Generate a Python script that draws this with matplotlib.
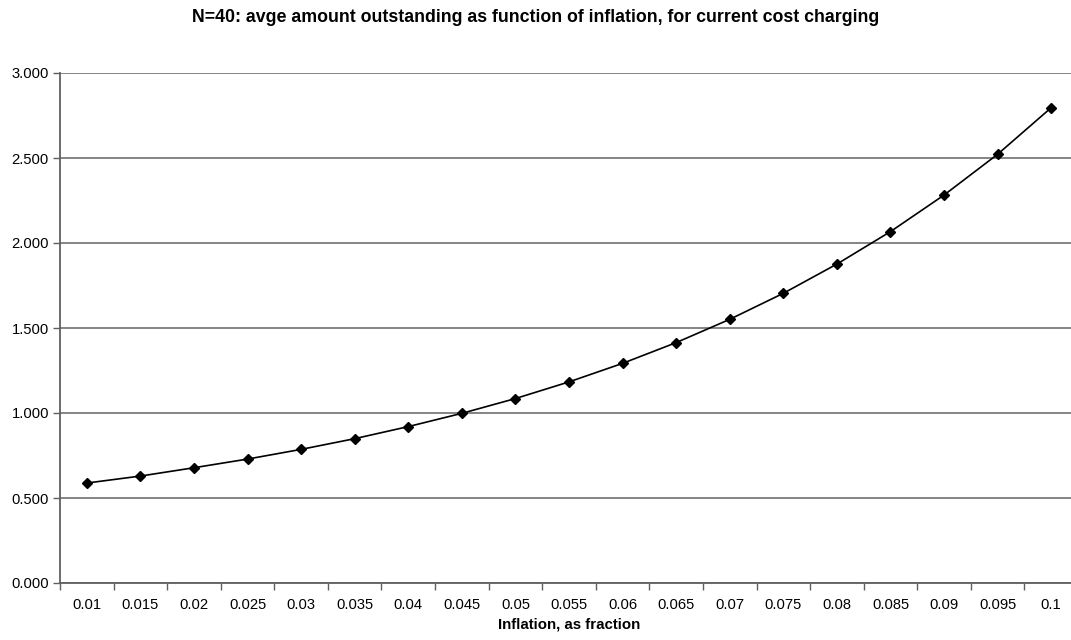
import numpy as np
import matplotlib.pyplot as plt
from matplotlib.ticker import FixedLocator, FixedFormatter

plt.rcParams['font.family'] = ['Liberation Sans', 'DejaVu Sans']

# inflation categories and average amount outstanding
inflation = ['0.01', '0.015', '0.02', '0.025', '0.03', '0.035', '0.04', '0.045', '0.05', '0.055',
             '0.06', '0.065', '0.07', '0.075', '0.08', '0.085', '0.09', '0.095', '0.1']
outstanding = [0.588, 0.629, 0.678, 0.729, 0.786, 0.849, 0.920, 0.998, 1.085, 1.183,
               1.292, 1.414, 1.551, 1.704, 1.876, 2.067, 2.282, 2.522, 2.796]
y_ticks = [0.0, 0.5, 1.0, 1.5, 2.0, 2.5, 3.0]

fig = plt.figure(figsize=(10.71, 6.4), dpi=100)
ax = fig.add_axes([60 / 1071, 57 / 640, 1018 / 1071, 510 / 640])

x = np.arange(len(inflation))
ax.plot(x, outstanding, color='black', lw=1.2, marker='D', markersize=5.5, zorder=3)

ax.set_xlim(-0.5, len(inflation) - 0.5)
ax.set_ylim(0, 3)
ax.set_yticks(y_ticks)
ax.set_yticklabels(['%.3f' % v for v in y_ticks], fontsize=10.6)
ax.yaxis.grid(True, color='#707070', lw=1.2)
ax.set_axisbelow(True)

# category axis: ticks between categories, labels centred
ax.xaxis.set_major_locator(FixedLocator(np.arange(-0.5, len(inflation), 1.0)))
ax.xaxis.set_major_formatter(FixedFormatter([''] * (len(inflation) + 1)))
ax.xaxis.set_minor_locator(FixedLocator(x))
ax.xaxis.set_minor_formatter(FixedFormatter(inflation))
ax.tick_params(axis='x', which='major', length=5, width=1, color='#606060')
ax.tick_params(axis='x', which='minor', length=0, labelsize=10.6, pad=11)
ax.tick_params(axis='y', length=5, width=1, color='#606060', labelsize=10.6, pad=3)

for s in ['top', 'right']:
    ax.spines[s].set_visible(False)
for s in ['left', 'bottom']:
    ax.spines[s].set_color('#606060')
    ax.spines[s].set_linewidth(1.3)

ax.set_xlabel('Inflation, as fraction', fontsize=10.8, fontweight='bold', labelpad=4)
fig.text(0.5, 1 - 18 / 640, 'N=40: avge amount outstanding as function of inflation, for current cost charging',
         ha='center', va='center', fontsize=12.8, fontweight='bold')

fig.savefig('out.png', dpi=100)
